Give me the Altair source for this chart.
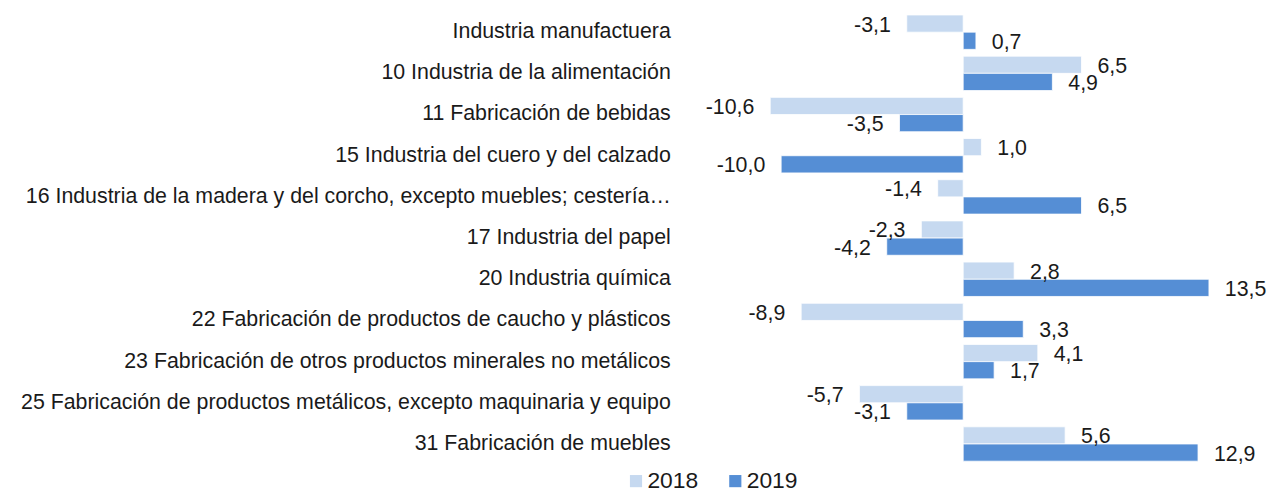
import altair as alt
import pandas as pd

categories = [
    "Industria manufactuera",
    "10 Industria de la alimentación",
    "11 Fabricación de bebidas",
    "15 Industria del cuero y del calzado",
    "16 Industria de la madera y del corcho, excepto muebles; cestería…",
    "17 Industria del papel",
    "20 Industria química",
    "22 Fabricación de productos de caucho y plásticos",
    "23 Fabricación de otros productos minerales no metálicos",
    "25 Fabricación de productos metálicos, excepto maquinaria y equipo",
    "31 Fabricación de muebles",
]
years = ["2018", "2019"]
values_2018 = [-3.1, 6.5, -10.6, 1.0, -1.4, -2.3, 2.8, -8.9, 4.1, -5.7, 5.6]
values_2019 = [0.7, 4.9, -3.5, -10.0, 6.5, -4.2, 13.5, 3.3, 1.7, -3.1, 12.9]
colors = ["#C6D9F0", "#558ED5"]

rows = []
for c, a, b in zip(categories, values_2018, values_2019):
    for y, v in zip(years, [a, b]):
        rows.append({"cat": c, "year": y, "value": v,
                     "label": f"{v:.1f}".replace(".", ",")})
df = pd.DataFrame(rows)

FONT = "Liberation Sans"
FS = 21.5
TXT = "#1a1a1a"

y_enc = alt.Y("cat:N", sort=categories, title=None,
              scale=alt.Scale(paddingInner=0.165, paddingOuter=0.08),
              axis=alt.Axis(domain=False, ticks=False, labelFontSize=FS, labelFont=FONT,
                            labelColor=TXT, labelPadding=20, labelLimit=900))
x_scale = alt.Scale(domain=[-15, 15], nice=False)

base = alt.Chart(df)

bars = base.mark_bar(stroke="white", strokeWidth=0.8).encode(
    x=alt.X("value:Q", scale=x_scale, axis=None),
    y=y_enc,
    yOffset=alt.YOffset("year:N", sort=years),
    color=alt.Color("year:N", sort=years,
                    scale=alt.Scale(domain=years, range=colors),
                    legend=alt.Legend(title=None, orient="none", direction="horizontal",
                                      legendX=-66, legendY=461, symbolType="square",
                                      symbolSize=150, symbolStrokeWidth=0, labelOffset=0,
                                      labelFontSize=23, labelFont=FONT, labelColor=TXT,
                                      columnPadding=25)),
)

pos = base.transform_filter("datum.value >= 0").mark_text(
    align="left", baseline="middle", dx=16, dy=2, fontSize=FS, font=FONT, color=TXT
).encode(
    x=alt.X("value:Q", scale=x_scale, axis=None),
    y=alt.Y("cat:N", sort=categories),
    yOffset=alt.YOffset("year:N", sort=years),
    text="label:N",
)
neg = base.transform_filter("datum.value < 0").mark_text(
    align="right", baseline="middle", dx=-16, dy=2, fontSize=FS, font=FONT, color=TXT
).encode(
    x=alt.X("value:Q", scale=x_scale, axis=None),
    y=alt.Y("cat:N", sort=categories),
    yOffset=alt.YOffset("year:N", sort=years),
    text="label:N",
)

chart = alt.layer(bars, pos, neg).properties(
    width=550, height=456, background="white",
    padding={"left": 20, "top": 10, "right": 5, "bottom": 5},
).configure_view(strokeWidth=0)

chart.save("out.html", embed_options={"renderer": "svg", "actions": False})
